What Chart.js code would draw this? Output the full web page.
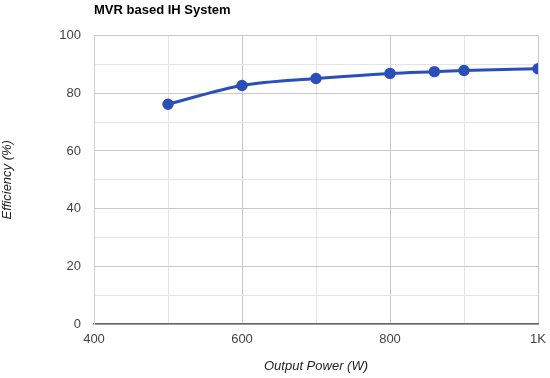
<!DOCTYPE html>
<html>
<head>
<meta charset="utf-8">
<script src="https://cdn.jsdelivr.net/npm/chart.js@4"></script>
<style>
  html, body { margin: 0; padding: 0; background: #fff; }
  #wrap { width: 550px; height: 378px; }
</style>
</head>
<body>
<div id="wrap"><canvas id="grafico"></canvas></div>
<script>
// potencia de saida (W) e eficiencia (%)
var potencia = [500, 600, 700, 800, 860, 900, 1000];
var eficiencia = [76.2, 82.7, 85.1, 86.9, 87.5, 87.9, 88.5];
var ticksX = [400, 600, 800, 1000];
var ticksY = [0, 20, 40, 60, 80, 100];

var fonte = "'Liberation Sans', Arial, sans-serif";
var azul = "#2a4fb9";

var pontos = potencia.map(function (p, i) {
    return { x: p, y: eficiencia[i] };
});

function rotuloX(v) {
    if (ticksX.indexOf(v) < 0) return "";
    return v >= 1000 ? (v / 1000) + "K" : String(v);
}

function rotuloY(v) {
    return ticksY.indexOf(v) < 0 ? "" : String(v);
}

var ctx = document.getElementById("grafico").getContext("2d");

new Chart(ctx, {
    type: 'line',
    data: {
        datasets: [{
            data: pontos,
            borderColor: azul,
            backgroundColor: azul,
            borderWidth: 3,
            pointRadius: 4.2,
            pointHoverRadius: 5,
            cubicInterpolationMode: 'monotone',
            fill: false
        }]
    },
    options: {
        responsive: true,
        maintainAspectRatio: false,
        animation: false,
        layout: { padding: { left: 0, right: 12, top: 0, bottom: 0 } },
        plugins: {
            legend: { display: false },
            tooltip: { enabled: false },
            title: {
                display: true,
                text: 'MVR based IH System',
                align: 'start',
                fullSize: false,
                color: '#000',
                font: { family: fonte, size: 13, weight: 'bold' },
                padding: { top: 3, bottom: 17 }
            }
        },
        scales: {
            x: {
                type: 'linear',
                min: 400,
                max: 1000,
                afterBuildTicks: function (s) {
                    s.ticks = [400, 500, 600, 700, 800, 900, 1000].map(function (v) { return { value: v }; });
                },
                afterFit: function (s) {
                    s.height = 54;
                    s.paddingLeft = 0;
                    s.paddingRight = 0;
                },
                border: { display: true, color: '#666', width: 1.5 },
                grid: {
                    drawTicks: false,
                    color: function (c) {
                        return ticksX.indexOf(c.tick.value) >= 0 ? '#c8c8c8' : '#e4e4e4';
                    }
                },
                ticks: {
                    autoSkip: false,
                    maxRotation: 0,
                    padding: 8,
                    color: '#444',
                    font: { family: fonte, size: 13 },
                    callback: rotuloX
                },
                title: {
                    display: true,
                    text: 'Output Power (W)',
                    color: '#222',
                    font: { family: fonte, size: 13, style: 'italic' },
                    padding: { top: 10 }
                }
            },
            y: {
                min: 0,
                max: 100,
                afterBuildTicks: function (s) {
                    var t = [];
                    for (var v = 0; v <= 100; v += 10) t.push({ value: v });
                    s.ticks = t;
                },
                afterFit: function (s) { s.width = 94; },
                border: { display: true, color: '#d0d0d0', width: 1 },
                grid: {
                    drawTicks: false,
                    color: function (c) {
                        return ticksY.indexOf(c.tick.value) >= 0 ? '#c8c8c8' : '#e4e4e4';
                    }
                },
                ticks: {
                    autoSkip: false,
                    padding: 13,
                    color: '#444',
                    font: { family: fonte, size: 13 },
                    callback: rotuloY
                },
                title: {
                    display: true,
                    text: 'Efficiency (%)',
                    color: '#222',
                    font: { family: fonte, size: 13, style: 'italic' },
                    padding: { top: 0, bottom: 2 }
                }
            }
        }
    }
});
</script>
</body>
</html>
